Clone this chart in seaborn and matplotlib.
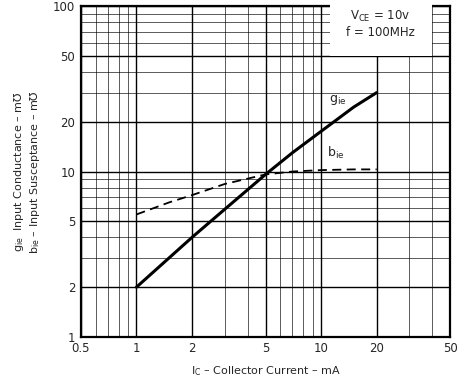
import matplotlib
matplotlib.use("Agg")
import matplotlib.pyplot as plt
import matplotlib.ticker as ticker
import numpy as np
import pandas as pd
import seaborn as sns

# ── Data ──────────────────────────────────────────────────────────────────────
IC_MA = [1, 1.5, 2, 3, 5, 7, 10, 15, 20]
G_IE = [2.0, 3.0, 4.0, 5.9, 9.6, 13.0, 17.5, 24.5, 30.0]
B_IE = [5.5, 6.5, 7.2, 8.4, 9.6, 10.0, 10.2, 10.3, 10.3]

X_TICKS = [0.5, 1, 2, 5, 10, 20, 50]
Y_TICKS = [1, 2, 5, 10, 20, 50, 100]

df = pd.DataFrame({"ic": IC_MA, "g": G_IE, "b": B_IE})

sns.set_theme(style="white", context="paper")
plt.rcParams["font.family"] = ["DejaVu Sans"]

fig = plt.figure(figsize=(4.57, 3.82), dpi=100)
ax = fig.add_axes([0.177, 0.118, 0.808, 0.866])

ax.set_xscale("log")
ax.set_yscale("log")
ax.set_xlim(0.5, 50)
ax.set_ylim(1, 100)

# ── Grid ─────────────────────────────────────────────────────────────────
ax.xaxis.set_major_locator(ticker.FixedLocator(X_TICKS))
ax.yaxis.set_major_locator(ticker.FixedLocator(Y_TICKS))
ax.xaxis.set_minor_locator(ticker.LogLocator(base=10, subs=np.arange(1, 10)))
ax.yaxis.set_minor_locator(ticker.LogLocator(base=10, subs=np.arange(1, 10)))
ax.xaxis.set_major_formatter(ticker.FuncFormatter(lambda v, p: f"{v:g}"))
ax.yaxis.set_major_formatter(ticker.FuncFormatter(lambda v, p: f"{v:g}"))
ax.xaxis.set_minor_formatter(ticker.NullFormatter())
ax.yaxis.set_minor_formatter(ticker.NullFormatter())
ax.grid(which="major", color="black", linewidth=1.0)
ax.grid(which="minor", color="black", linewidth=0.6, alpha=0.75)
ax.tick_params(which="both", length=0, labelsize=8.5, pad=4)
for s in ax.spines.values():
    s.set_color("black")
    s.set_linewidth(1.6)

# ── Curves ───────────────────────────────────────────────────────────────
sns.lineplot(data=df, x="ic", y="g", ax=ax, color="black", linewidth=2.2)
sns.lineplot(data=df, x="ic", y="b", ax=ax, color="black", linewidth=1.3,
             linestyle=(0, (5, 3)))

ax.text(11.0, 27.0, r"g$_{\mathsf{ie}}$", fontsize=9, ha="left", va="center")
ax.text(10.8, 13.0, r"b$_{\mathsf{ie}}$", fontsize=9, ha="left", va="center")

ax.text(21, 78, "V$_{\\mathsf{CE}}$ = 10v\nf = 100MHz", fontsize=8.5,
        ha="center", va="center", linespacing=1.2,
        bbox=dict(facecolor="white", edgecolor="none", pad=12))

ax.set_xlabel(r"I$_{\mathsf{C}}$ – Collector Current – mA", fontsize=8, labelpad=6)
ax.set_ylabel("g$_{\\mathsf{ie}}$  Input Conductance – m℧\n"
              "b$_{\\mathsf{ie}}$ – Input Susceptance – m℧", fontsize=8, labelpad=8)

fig.savefig("out.png", dpi=100)
plt.close(fig)
